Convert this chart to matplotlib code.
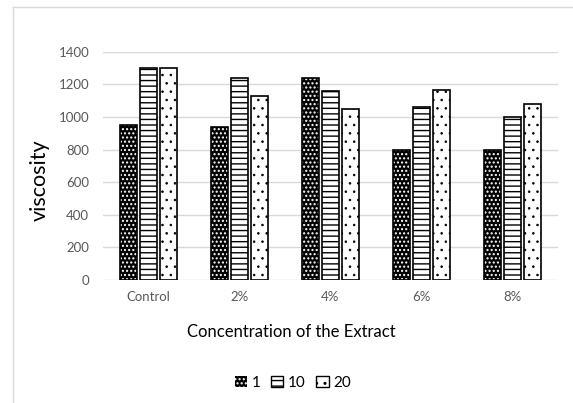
import numpy as np
import matplotlib
matplotlib.use("Agg")
import matplotlib.pyplot as plt
from matplotlib.patches import Patch
from matplotlib.lines import Line2D

categories = ["Control", "2%", "4%", "6%", "8%"]
series_names = ["1", "10", "20"]
vals_1 = [950, 940, 1240, 800, 800]
vals_10 = [1300, 1240, 1160, 1060, 1000]
vals_20 = [1300, 1130, 1050, 1165, 1080]
yticks = [0, 200, 400, 600, 800, 1000, 1200, 1400]

FONT = "Lato"
GRID = "#d9d9d9"
TICK = "#595959"

fig = plt.figure(figsize=(5.73, 4.03), dpi=100)
fig.patch.set_facecolor("white")
ax = fig.add_axes([0.1798, 0.3052, 0.794, 0.5665])

x = np.arange(len(categories))
w = 0.187
step = 0.22

# series "1": black with white dots, then outline
plt.rcParams["hatch.linewidth"] = 1.0
ax.bar(x - step, vals_1, w, facecolor="black", edgecolor="white", hatch="....",
       linewidth=0, zorder=3)
ax.bar(x - step, vals_1, w, fill=False, edgecolor="black", linewidth=1.2, zorder=4)
# series "10": horizontal stripes
ax.bar(x, vals_10, w, facecolor="white", edgecolor="black", hatch="---",
       linewidth=1.2, zorder=3)
# series "20": sparse small dots
plt.rcParams["hatch.linewidth"] = 0.6
ax.bar(x + step, vals_20, w, facecolor="white", edgecolor="black", hatch="..",
       linewidth=1.2, zorder=3)

ax.set_xlim(-0.5, len(categories) - 0.5)
ax.set_ylim(0, 1400)
ax.set_yticks(yticks)
ax.set_yticklabels([str(t) for t in yticks], fontsize=9.5, color=TICK, family=FONT)
ax.set_xticks(x)
ax.set_xticklabels(categories, fontsize=9.5, color=TICK, family=FONT)
ax.tick_params(axis="both", length=0)
ax.tick_params(axis="x", pad=8)
ax.tick_params(axis="y", pad=10)
ax.grid(axis="y", color=GRID, lw=1.0, zorder=0)
for s in ax.spines.values():
    s.set_visible(False)

fig.text(0.07, 0.553, "viscosity", rotation=90, fontsize=15.5, family=FONT,
         ha="center", va="center", color="black")
fig.text(0.508, 0.176, "Concentration of the Extract", fontsize=12, family=FONT,
         ha="center", va="center", color="black")

plt.rcParams["hatch.linewidth"] = 1.0
handles = [
    Patch(facecolor="black", edgecolor="white", hatch="....", linewidth=0),
    Patch(facecolor="white", edgecolor="black", hatch="---"),
    Patch(facecolor="white", edgecolor="black", hatch=".."),
]
leg = fig.legend(handles, series_names, loc="center", bbox_to_anchor=(0.511, 0.05),
                 ncol=3, frameon=False, prop={"family": FONT, "size": 11},
                 handlelength=0.8, handleheight=0.8, handletextpad=0.3,
                 columnspacing=0.7)

# chart area frame (top and left edges visible)
fig.add_artist(Line2D([13 / 573, 1.0], [1 - 7 / 403, 1 - 7 / 403],
                      transform=fig.transFigure, color=GRID, lw=1.0))
fig.add_artist(Line2D([13 / 573, 13 / 573], [0.0, 1 - 7 / 403],
                      transform=fig.transFigure, color=GRID, lw=1.0))

fig.savefig("out.png", facecolor="white")
